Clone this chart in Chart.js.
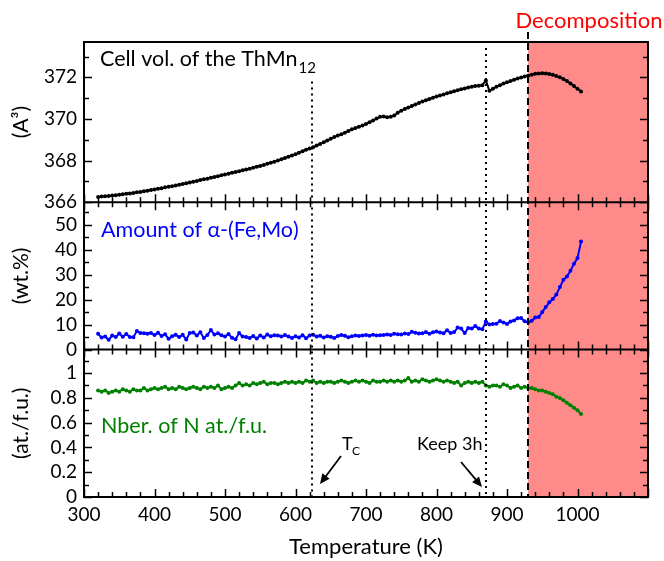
<!DOCTYPE html>
<html>
<head>
<meta charset="utf-8">
<script src="https://cdn.jsdelivr.net/npm/chart.js@4.4.0/dist/chart.umd.min.js"></script>
<style>
  html, body { margin: 0; padding: 0; background: #fff; }
  #wrap { width: 664px; height: 561px; }
</style>
</head>
<body>
<div id="wrap"><canvas id="chart"></canvas></div>
<script>
var temps = [
  320, 325, 330, 335, 340, 345, 350, 355, 360, 365, 370, 375, 380, 385, 390, 395,
  400, 405, 410, 415, 420, 425, 430, 435, 440, 445, 450, 455, 460, 465, 470, 475,
  480, 485, 490, 495, 500, 505, 510, 515, 520, 525, 530, 535, 540, 545, 550, 555,
  560, 565, 570, 575, 580, 585, 590, 595, 600, 605, 610, 615, 620, 625, 630, 635,
  640, 645, 650, 655, 660, 665, 670, 675, 680, 685, 690, 695, 700, 705, 710, 715,
  720, 725, 730, 735, 740, 745, 750, 755, 760, 765, 770, 775, 780, 785, 790, 795,
  800, 805, 810, 815, 820, 825, 830, 835, 840, 845, 850, 855, 860, 865, 870, 875,
  880, 885, 890, 895, 900, 905, 910, 915, 920, 925, 930, 935, 940, 945, 950, 955,
  960, 965, 970, 975, 980, 985, 990, 995, 1000, 1005
];
var cellVol = [
  366.25, 366.27, 366.28, 366.30, 366.32, 366.33, 366.35, 366.38, 366.40, 366.42, 366.44, 366.47, 366.49, 366.52, 366.55, 366.58,
  366.61, 366.64, 366.67, 366.71, 366.74, 366.77, 366.80, 366.84, 366.87, 366.91, 366.94, 366.98, 367.02, 367.06, 367.10, 367.13,
  367.17, 367.21, 367.25, 367.29, 367.33, 367.37, 367.41, 367.45, 367.49, 367.53, 367.57, 367.61, 367.65, 367.70, 367.74, 367.79,
  367.84, 367.89, 367.94, 368.00, 368.06, 368.12, 368.18, 368.24, 368.30, 368.38, 368.45, 368.52, 368.58, 368.64, 368.72, 368.80,
  368.88, 368.96, 369.05, 369.13, 369.20, 369.26, 369.34, 369.42, 369.50, 369.56, 369.62, 369.68, 369.76, 369.84, 369.92, 370.02,
  370.10, 370.12, 370.08, 370.10, 370.16, 370.30, 370.40, 370.48, 370.55, 370.62, 370.70, 370.77, 370.84, 370.90, 370.96, 371.02,
  371.08, 371.13, 371.18, 371.23, 371.28, 371.33, 371.38, 371.43, 371.47, 371.51, 371.55, 371.58, 371.60, 371.62, 371.85, 371.35,
  371.45, 371.55, 371.62, 371.70, 371.76, 371.82, 371.88, 371.94, 371.99, 372.04, 372.08, 372.13, 372.17, 372.19, 372.20, 372.19,
  372.16, 372.12, 372.06, 372.00, 371.92, 371.82, 371.71, 371.58, 371.45, 371.32
];
var alphaFeMo = [
  6.3, 4.8, 5.2, 3.9, 5.6, 5.0, 6.4, 5.1, 6.2, 5.0, 4.9, 7.4, 6.6, 6.5, 6.3, 6.6,
  5.8, 6.7, 5.4, 6.1, 4.3, 5.3, 5.9, 5.0, 5.9, 4.0, 6.6, 6.8, 5.6, 6.9, 4.6, 5.8,
  7.8, 6.0, 6.5, 5.7, 5.2, 6.2, 4.7, 4.1, 6.6, 5.2, 5.0, 4.6, 5.4, 4.4, 5.6, 4.8,
  6.0, 5.3, 5.7, 5.6, 5.2, 5.8, 5.2, 4.6, 5.3, 4.8, 5.7, 4.5, 5.6, 5.9, 5.2, 5.5,
  4.8, 5.3, 5.1, 4.6, 5.4, 5.8, 5.5, 4.9, 5.3, 5.6, 5.4, 5.6, 5.8, 5.5, 5.9, 5.6,
  5.7, 5.8, 6.0, 5.8, 6.3, 6.1, 6.0, 6.4, 6.2, 7.1, 6.7, 6.4, 6.5, 7.0, 6.3, 6.9,
  7.2, 6.8, 6.5, 7.7, 6.6, 7.0, 8.8, 8.4, 6.6, 8.6, 8.4, 9.4, 8.4, 8.1, 11.2, 10.0,
  10.2, 10.3, 11.4, 10.8, 10.2, 11.2, 11.6, 12.5, 12.6, 11.3, 10.9, 11.5, 12.8, 13.0, 15.0, 17.0,
  18.9, 20.2, 22.0, 25.0, 27.9, 29.2, 31.5, 34.3, 36.6, 43.2
];
var nPerFu = [
  0.86, 0.85, 0.86, 0.84, 0.85, 0.86, 0.85, 0.87, 0.86, 0.85, 0.87, 0.86, 0.86, 0.88, 0.86, 0.87,
  0.88, 0.87, 0.88, 0.89, 0.87, 0.88, 0.87, 0.89, 0.88, 0.87, 0.88, 0.89, 0.88, 0.87, 0.89, 0.88,
  0.89, 0.88, 0.90, 0.87, 0.88, 0.89, 0.88, 0.90, 0.92, 0.90, 0.91, 0.90, 0.92, 0.91, 0.92, 0.93,
  0.91, 0.92, 0.92, 0.91, 0.92, 0.93, 0.92, 0.93, 0.92, 0.93, 0.92, 0.94, 0.93, 0.94, 0.92, 0.93,
  0.92, 0.93, 0.93, 0.92, 0.93, 0.94, 0.93, 0.92, 0.93, 0.94, 0.93, 0.94, 0.93, 0.92, 0.94, 0.93,
  0.93, 0.94, 0.93, 0.94, 0.93, 0.94, 0.93, 0.94, 0.96, 0.93, 0.94, 0.93, 0.95, 0.94, 0.93, 0.94,
  0.95, 0.94, 0.93, 0.94, 0.93, 0.92, 0.93, 0.90, 0.92, 0.93, 0.92, 0.93, 0.92, 0.93, 0.90, 0.89,
  0.90, 0.90, 0.89, 0.91, 0.90, 0.88, 0.89, 0.90, 0.88, 0.89, 0.88, 0.88, 0.87, 0.86, 0.86, 0.85,
  0.84, 0.83, 0.81, 0.80, 0.78, 0.76, 0.74, 0.72, 0.70, 0.67
];

var xTicks = [300, 400, 500, 600, 700, 800, 900, 1000];
var volTicks = [366, 368, 370, 372];
var wtTicks = [0, 10, 20, 30, 40, 50];
var atTicks = [0, 0.2, 0.4, 0.6, 0.8, 1];

var tCurie = 623;
var tKeep = 870;
var tDecomp = 930;

var FONT = 'Lato, "Open Sans", sans-serif';

function pts(vals) {
  return temps.map(function (t, i) { return { x: t, y: vals[i] }; });
}

function fixTicks(list) {
  return function (s) { s.ticks = list.map(function (v) { return { value: v }; }); };
}

function plain(v) { return String(v); }

function yAxis(list, min, max, title, weight, stackWeight) {
  return {
    type: 'linear',
    position: 'left',
    stack: 'panels',
    stackWeight: stackWeight,
    weight: weight,
    min: min,
    max: max,
    afterBuildTicks: fixTicks(list),
    afterFit: function (s) { s.width = 84; },
    grid: { display: false, drawTicks: false },
    border: { display: false },
    ticks: { color: '#000', padding: 7, autoSkip: false, callback: plain, font: { family: FONT, size: 19 } },
    title: {
      display: true, text: title, color: '#000',
      font: { family: FONT, size: 21 }, padding: { top: 9, bottom: 0 }
    }
  };
}

var panelDecor = {
  id: 'panelDecor',
  beforeDatasetsDraw: function (chart) {
    var ctx = chart.ctx, a = chart.chartArea;
    var x0 = chart.scales.x.getPixelForValue(tDecomp);
    ctx.save();
    ctx.fillStyle = 'rgb(255,138,138)';
    ctx.fillRect(x0, a.top, a.right - x0, a.bottom - a.top);
    ctx.restore();
  },
  afterDraw: function (chart) {
    var ctx = chart.ctx, a = chart.chartArea, sx = chart.scales.x;
    var panels = [
      { s: chart.scales.y1, major: volTicks, step: 1, top: false },
      { s: chart.scales.y2, major: wtTicks, step: 5, top: true },
      { s: chart.scales.y3, major: atTicks, step: 0.1, top: true }
    ];
    ctx.save();
    ctx.strokeStyle = '#000';
    ctx.lineWidth = 1.5;

    // tick marks, all pointing inward
    panels.forEach(function (p) {
      var s = p.s;
      ctx.beginPath();
      for (var v = s.min; v <= s.max + 1e-9; v += p.step) {
        var y = Math.round(s.getPixelForValue(v)) + 0.5;
        var isMajor = p.major.some(function (m) { return Math.abs(m - v) < 1e-6; });
        var len = isMajor ? 8 : 5;
        ctx.moveTo(a.left, y); ctx.lineTo(a.left + len, y);
        ctx.moveTo(a.right, y); ctx.lineTo(a.right - len, y);
      }
      for (var t = 300; t <= 1100; t += 20) {
        var x = Math.round(sx.getPixelForValue(t)) + 0.5;
        var l = (t % 100 === 0) ? 8 : 5;
        ctx.moveTo(x, s.bottom); ctx.lineTo(x, s.bottom - l);
        if (p.top) { ctx.moveTo(x, s.top); ctx.lineTo(x, s.top + l); }
      }
      ctx.stroke();
    });

    // frame and panel separators
    ctx.lineWidth = 2;
    ctx.strokeRect(a.left, a.top, a.right - a.left, a.bottom - a.top);
    ctx.beginPath();
    ctx.moveTo(a.left, chart.scales.y1.bottom); ctx.lineTo(a.right, chart.scales.y1.bottom);
    ctx.moveTo(a.left, chart.scales.y2.bottom); ctx.lineTo(a.right, chart.scales.y2.bottom);
    ctx.stroke();

    // vertical marker lines
    var xc = Math.round(sx.getPixelForValue(tCurie));
    var xk = Math.round(sx.getPixelForValue(tKeep));
    var xd = Math.round(sx.getPixelForValue(tDecomp));
    ctx.lineWidth = 2;
    ctx.setLineDash([2, 4]);
    ctx.beginPath();
    ctx.moveTo(xc, chart.scales.y1.getPixelForValue(371.8)); ctx.lineTo(xc, a.bottom);
    ctx.moveTo(xk, a.top + 6); ctx.lineTo(xk, a.bottom);
    ctx.stroke();
    ctx.setLineDash([7, 4]);
    ctx.beginPath();
    ctx.moveTo(xd, a.top - 10); ctx.lineTo(xd, a.bottom);
    ctx.stroke();
    ctx.setLineDash([]);

    // panel labels
    ctx.textBaseline = 'alphabetic';
    ctx.textAlign = 'left';
    ctx.fillStyle = '#000';
    ctx.font = '21.5px ' + FONT;
    ctx.fillText('Cell vol. of the ThMn', 100, 66);
    var w = ctx.measureText('Cell vol. of the ThMn').width;
    ctx.font = '15px ' + FONT;
    ctx.fillText('12', 100 + w + 1, 73);

    ctx.font = '21.5px ' + FONT;
    ctx.fillStyle = '#0000ff';
    ctx.fillText('Amount of \u03b1-(Fe,Mo)', 101, 237);
    ctx.fillStyle = '#008000';
    ctx.fillText('Nber. of N at./f.u.', 101, 433);

    ctx.fillStyle = '#ff0000';
    ctx.font = '22px ' + FONT;
    ctx.textAlign = 'center';
    ctx.fillText('Decomposition', 589, 28);

    ctx.fillStyle = '#000';
    ctx.textAlign = 'left';
    ctx.font = '18px ' + FONT;
    ctx.fillText('T', 342, 450);
    ctx.font = '12px ' + FONT;
    ctx.fillText('C', 352, 455);
    ctx.font = '18px ' + FONT;
    ctx.fillText('Keep 3h', 417, 450);

    function arrow(x1, y1, x2, y2) {
      var ang = Math.atan2(y2 - y1, x2 - x1);
      ctx.lineWidth = 1.8;
      ctx.beginPath();
      ctx.moveTo(x1, y1);
      ctx.lineTo(x2 - 6 * Math.cos(ang), y2 - 6 * Math.sin(ang));
      ctx.stroke();
      ctx.beginPath();
      ctx.moveTo(x2, y2);
      ctx.lineTo(x2 - 10 * Math.cos(ang) + 4.5 * Math.sin(ang), y2 - 10 * Math.sin(ang) - 4.5 * Math.cos(ang));
      ctx.lineTo(x2 - 10 * Math.cos(ang) - 4.5 * Math.sin(ang), y2 - 10 * Math.sin(ang) + 4.5 * Math.cos(ang));
      ctx.closePath();
      ctx.fill();
    }
    arrow(341, 456, 320, 484);
    arrow(461, 462, 482, 487);
    ctx.restore();
  }
};

function series(vals, color, axis) {
  return {
    data: pts(vals),
    yAxisID: axis,
    borderColor: color,
    backgroundColor: color,
    borderWidth: 2,
    pointRadius: 2,
    pointBorderWidth: 0,
    pointBackgroundColor: color
  };
}

new Chart(document.getElementById('chart'), {
  type: 'line',
  data: {
    datasets: [
      series(cellVol, '#000000', 'y1'),
      series(alphaFeMo, '#0000ff', 'y2'),
      series(nPerFu, '#008000', 'y3')
    ]
  },
  options: {
    responsive: true,
    maintainAspectRatio: false,
    animation: false,
    layout: { padding: { top: 42, right: 16, left: 0, bottom: 0 } },
    plugins: { legend: { display: false }, tooltip: { enabled: false } },
    scales: {
      x: {
        type: 'linear',
        position: 'bottom',
        min: 300,
        max: 1100,
        afterBuildTicks: fixTicks(xTicks),
        afterFit: function (s) { s.height = 64; },
        grid: { display: false, drawTicks: false },
        border: { display: false },
        ticks: { color: '#000', padding: 6, maxRotation: 0, autoSkip: false, callback: plain, font: { family: FONT, size: 19 } },
        title: {
          display: true, text: 'Temperature (K)', color: '#000',
          font: { family: FONT, size: 22 }, padding: { top: 0, bottom: 1 }
        }
      },
      y1: yAxis(volTicks, 366, 373.7, '(A\u00b3)', 3, 160),
      y2: yAxis(wtTicks, 0, 59, '(wt.%)', 2, 147.3),
      y3: yAxis(atTicks, 0, 1.19, '(at./f.u.)', 1, 147.3)
    }
  },
  plugins: [panelDecor]
});
</script>
</body>
</html>
